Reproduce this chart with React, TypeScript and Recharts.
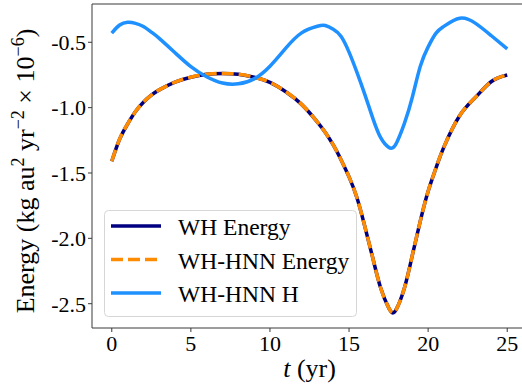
import React from "react";
import { LineChart, Line, XAxis, YAxis, Legend, ReferenceLine } from "recharts";

const times = [0, 0.5, 1, 1.5, 2, 2.5, 3, 4, 5, 6, 7, 8, 9, 10, 11, 12, 13, 13.5, 14, 14.5, 15, 15.5, 16, 16.5, 17, 17.5, 17.75, 18, 18.5, 19, 19.5, 20, 20.5, 21, 22, 23, 24, 25];
const whEnergy = [-1.41, -1.24, -1.125, -1.03, -0.958, -0.905, -0.864, -0.805, -0.767, -0.745, -0.738, -0.745, -0.767, -0.806, -0.878, -0.975, -1.11, -1.19, -1.285, -1.4, -1.53, -1.69, -1.91, -2.15, -2.38, -2.53, -2.57, -2.54, -2.38, -2.13, -1.87, -1.64, -1.46, -1.3, -1.06, -0.92, -0.8, -0.75];
const hnnEnergy = [-1.41, -1.24, -1.125, -1.03, -0.958, -0.905, -0.864, -0.805, -0.767, -0.745, -0.738, -0.745, -0.767, -0.806, -0.878, -0.975, -1.11, -1.19, -1.285, -1.4, -1.53, -1.69, -1.91, -2.15, -2.38, -2.53, -2.57, -2.54, -2.38, -2.13, -1.87, -1.64, -1.46, -1.3, -1.06, -0.92, -0.8, -0.75];
const hnnH = [-0.43, -0.368, -0.347, -0.355, -0.38, -0.422, -0.47, -0.58, -0.686, -0.764, -0.812, -0.818, -0.78, -0.683, -0.545, -0.428, -0.377, -0.372, -0.4, -0.455, -0.575, -0.73, -0.9, -1.08, -1.23, -1.303, -1.308, -1.27, -1.12, -0.92, -0.685, -0.535, -0.43, -0.378, -0.316, -0.355, -0.45, -0.55];

const xTicks = [0, 5, 10, 15, 20, 25];
const yTicks = [-2.5, -2.0, -1.5, -1.0, -0.5];
const X_DOMAIN: [number, number] = [-1.25, 26.25];
const Y_DOMAIN: [number, number] = [-2.686, -0.207];

const seriesNames = ["WH Energy", "WH-HNN Energy", "WH-HNN H"];
const seriesColors = ["#000080", "#FF8C00", "#1E90FF"];

const data = times.map((t, i) => ({ t, wh: whEnergy[i], hnnE: hnnEnergy[i], hnnH: hnnH[i] }));

const FONT = "'Liberation Serif', 'Times New Roman', serif";
const SPINE = "#3a3a3a";

const XLabel = (props: any) => {
  const vb = props.viewBox || {};
  const cx = (vb.x ?? 92) + (vb.width ?? 435) / 2;
  return (
    <text x={cx} y={377} textAnchor="middle" fontFamily={FONT} fontSize={26} fill="#000">
      <tspan fontStyle="italic">t</tspan>
      <tspan> (yr)</tspan>
    </text>
  );
};

const YLabel = () => (
  <text transform="translate(34,171) rotate(-90)" textAnchor="middle" fontFamily={FONT} fontSize={26} fill="#000">
    <tspan>Energy (kg au</tspan>
    <tspan dy={-10} fontSize={18}>2</tspan>
    <tspan dy={10}> yr</tspan>
    <tspan dy={-10} fontSize={18}>−2</tspan>
    <tspan dy={10}> × 10</tspan>
    <tspan dy={-10} fontSize={18}>−6</tspan>
    <tspan dy={10}>)</tspan>
  </text>
);

const LegendBox = () => {
  const rows = [16, 49.5, 83];
  return (
    <svg width={254} height={108} style={{ display: "block" }}>
      <rect x={0.5} y={0.5} width={252} height={106} rx={4} ry={4} fill="rgba(255,255,255,0.8)" stroke="#d6d6d6" strokeWidth={1} />
      {rows.map((ry, i) => (
        <g key={i}>
          <line x1={7} x2={57} y1={ry} y2={ry} stroke={seriesColors[i]} strokeWidth={3.5} strokeDasharray={i === 1 ? "12 5" : undefined} />
          <text x={74} y={ry + 9} fontFamily={FONT} fontSize={23.5} fill="#000">{seriesNames[i]}</text>
        </g>
      ))}
    </svg>
  );
};

export default function App() {
  return (
    <div style={{ position: "fixed", left: 0, top: 0, width: 522, height: 385, overflow: "hidden", background: "#fff" }}>
      <LineChart width={530} height={385} data={data} margin={{ top: 4, right: 3, bottom: 0, left: 0 }}>
        <XAxis
          dataKey="t"
          type="number"
          domain={X_DOMAIN}
          ticks={xTicks}
          allowDataOverflow
          height={57}
          tickSize={4}
          tickMargin={3}
          axisLine={{ stroke: SPINE, strokeWidth: 1 }}
          tickLine={{ stroke: SPINE, strokeWidth: 1 }}
          tick={{ fontFamily: FONT, fontSize: 22, fill: "#000" }}
          label={<XLabel />}
        />
        <YAxis
          type="number"
          domain={Y_DOMAIN}
          ticks={yTicks}
          allowDataOverflow
          width={92}
          tickSize={4}
          tickMargin={2}
          tickFormatter={(v: number) => v.toFixed(1)}
          axisLine={{ stroke: SPINE, strokeWidth: 1 }}
          tickLine={{ stroke: SPINE, strokeWidth: 1 }}
          tick={{ fontFamily: FONT, fontSize: 22, fill: "#000" }}
          label={<YLabel />}
        />
        <ReferenceLine y={Y_DOMAIN[1]} stroke={SPINE} strokeWidth={1} ifOverflow="visible" />
        <Line dataKey="wh" name={seriesNames[0]} type="natural" stroke={seriesColors[0]} strokeWidth={3.5} dot={false} isAnimationActive={false} />
        <Line dataKey="hnnE" name={seriesNames[1]} type="natural" stroke={seriesColors[1]} strokeWidth={3.5} strokeDasharray="12 5" dot={false} isAnimationActive={false} />
        <Line dataKey="hnnH" name={seriesNames[2]} type="natural" stroke={seriesColors[2]} strokeWidth={3.5} dot={false} isAnimationActive={false} />
        <Legend
          layout="vertical"
          align="center"
          verticalAlign="middle"
          content={<LegendBox />}
          wrapperStyle={{ position: "absolute", left: 104, top: 210, width: 254, height: 108 }}
        />
      </LineChart>
    </div>
  );
}
